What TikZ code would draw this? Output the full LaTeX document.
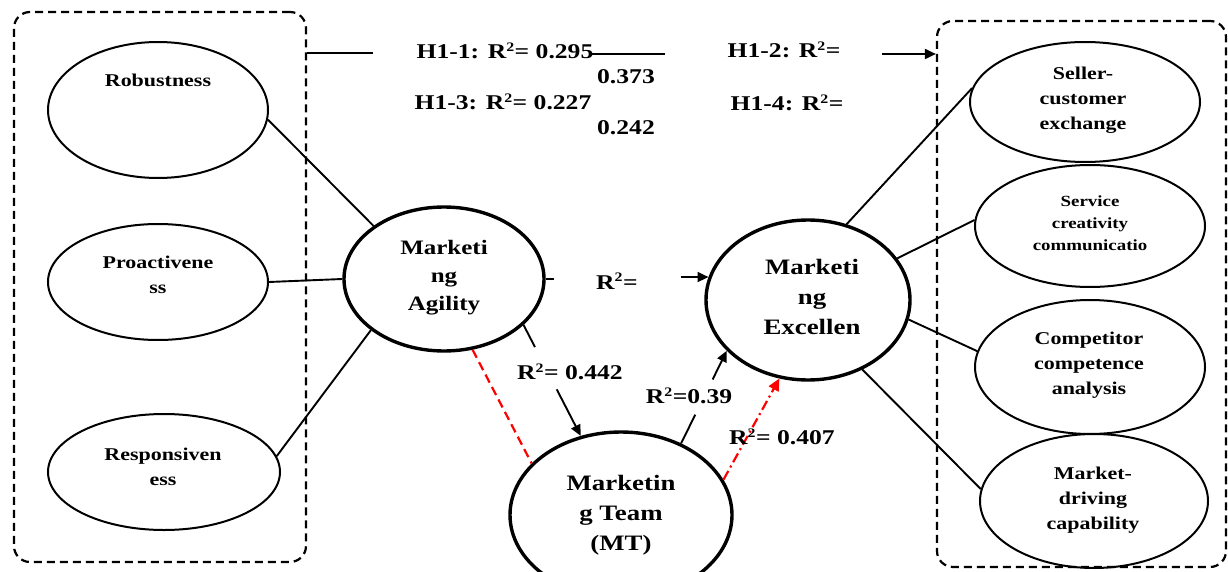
\documentclass[tikz,border=0pt]{standalone}
\usepackage{fontspec}
\setmainfont{Liberation Serif}[FakeStretch=1.22]
\usetikzlibrary{shapes.geometric,arrows.meta,calc}
\newcommand{\rsq}{R\textsuperscript{\fontsize{13}{13}\selectfont 2}}
\begin{document}
\begin{tikzpicture}[x=1pt,y=-1pt,
  oval/.style={draw,ellipse,line width=2pt,inner sep=0pt},
  bigoval/.style={draw,ellipse,line width=3.4pt,inner sep=0pt},
  groupbox/.style={draw,rectangle,rounded corners=16pt,line width=2.2pt,dash pattern=on 8pt off 5pt,inner sep=0pt},
  tsm/.style={align=center,inner sep=0pt,font=\bfseries\fontsize{18}{25}\selectfont},
  tsv/.style={align=center,inner sep=0pt,font=\bfseries\fontsize{15.5}{22}\selectfont},
  tag/.style={align=center,inner sep=0pt,font=\bfseries\fontsize{20.5}{28}\selectfont},
  tbig/.style={align=center,inner sep=0pt,font=\bfseries\fontsize{22}{30}\selectfont},
  th/.style={inner sep=0pt,font=\bfseries\fontsize{21}{26}\selectfont},
  conn/.style={line width=1.9pt},
  arr/.style={line width=1.9pt,-{Triangle[length=11pt,width=10pt]}},
  reddash/.style={red,line width=2.2pt,dash pattern=on 9pt off 5pt},
  reddot/.style={red,line width=2.2pt,dash pattern=on 10pt off 4pt on 2pt off 4pt,-{Triangle[length=12pt,width=11pt]}}
]
\useasboundingbox (0,0) rectangle (1228,572);
% group boxes
\node[groupbox,minimum width=292pt,minimum height=550pt] (lbox) at (160,287) {};
\node[groupbox,minimum width=289pt,minimum height=546pt] (rbox) at (1081.5,294) {};
% left ellipses
\node[oval,minimum width=220pt,minimum height=136pt] (rob) at (158,110) {};
\node[oval,minimum width=220pt,minimum height=116pt] (pro) at (158,282) {};
\node[oval,minimum width=232pt,minimum height=116pt] (res) at (164,472) {};
\node[tsm] (trob) at (158,80) {Robustness};
\node[tsm] (tpro) at (158,275) {Proactivene\\ss};
\node[tsm] (tres) at (163,467) {Responsiven\\ess};
% central ellipses
\node[bigoval,minimum width=200pt,minimum height=144pt] (ma) at (444,279) {};
\node[bigoval,minimum width=204pt,minimum height=160pt] (me) at (808,300) {};
\node[bigoval,minimum width=222pt,minimum height=166pt] (mt) at (621,515) {};
\node[tag] (tma) at (444,278) {Marketi\\ng\\Agility};
\node[tbig] (tme) at (812,297) {Marketi\\ng\\Excellen};
\node[tbig] (tmt) at (621,515) {Marketin\\g Team\\(MT)};
% right ellipses
\node[oval,minimum width=230pt,minimum height=120pt] (sce) at (1085,102) {};
\node[oval,minimum width=230pt,minimum height=122pt] (scc) at (1090,226) {};
\node[oval,minimum width=230pt,minimum height=134pt] (cca) at (1090,367) {};
\node[oval,minimum width=228pt,minimum height=134pt] (mdc) at (1094,501) {};
\node[tsm] (tsce) at (1083,100) {Seller-\\customer\\exchange};
\node[tsv] (tscc) at (1090,223) {Service\\creativity\\communicatio};
\node[tsm] (tcca) at (1089,365) {Competitor\\competence\\analysis};
\node[tsm] (tmdc) at (1093,500) {Market-\\driving\\capability};
% dimension connectors
\draw[conn] (rob.-5) -- (ma.143);
\draw[conn] (pro.east) -- (ma.west);
\draw[conn] (res.8) -- (ma.215);
\draw[conn] (me.63) -- (sce.173);
\draw[conn] (me.25) -- (scc.177);
\draw[conn] (me.-11) -- (cca.172);
\draw[conn] (me.-52) -- (mdc.174);
% agility -> excellence
\coordinate (ma1) at ($(ma.east)+(8,0)$);
\draw[conn] (ma.east) -- (ma1);
\coordinate (me1) at ($(me.167)+(-28,0)$);
\draw[arr] (me1) -- (me.167);
\node[th] (r0) at (617,281) {\rsq=};
% agility -> team
\draw[conn] (ma.-30) -- ($(ma.-30)!0.2!(mt.117)$);
\draw[arr] ($(ma.-30)!0.58!(mt.117)$) -- (mt.117);
\node[th] (r1) at (570,372) {\rsq= 0.442};
% team -> excellence
\draw[conn] (mt.50) -- ($(mt.50)!0.31!(me.212)$);
\draw[arr] ($(mt.50)!0.69!(me.212)$) -- (me.212);
\node[th] (r2) at (689,396) {\rsq=0.39};
% red dashed
\draw[reddash] (ma.-68) -- (mt.150);
\draw[reddot] (mt.19) -- (me.250);
\node[th] (r3) at (782,437) {\rsq= 0.407};
% top hypotheses line
\coordinate (h1a) at (373,53);
\draw[conn] (lbox.east |- h1a) -- (h1a);
\node[th] (h11) at (505,51) {H1-1: \rsq= 0.295};
\coordinate (h1b) at (590,54);
\coordinate (h1c) at (665,54);
\draw[conn] (h1b) -- (h1c);
\node[th] (h12) at (784,50) {H1-2: \rsq=};
\coordinate (h1d) at (882,54);
\draw[arr] (h1d) -- (rbox.west |- h1d);
\node[th] (v12) at (626,77) {0.373};
\node[th] (h13) at (503,102) {H1-3: \rsq= 0.227};
\node[th] (h14) at (787,103) {H1-4: \rsq=};
\node[th] (v14) at (626,128) {0.242};
\end{tikzpicture}
\end{document}
